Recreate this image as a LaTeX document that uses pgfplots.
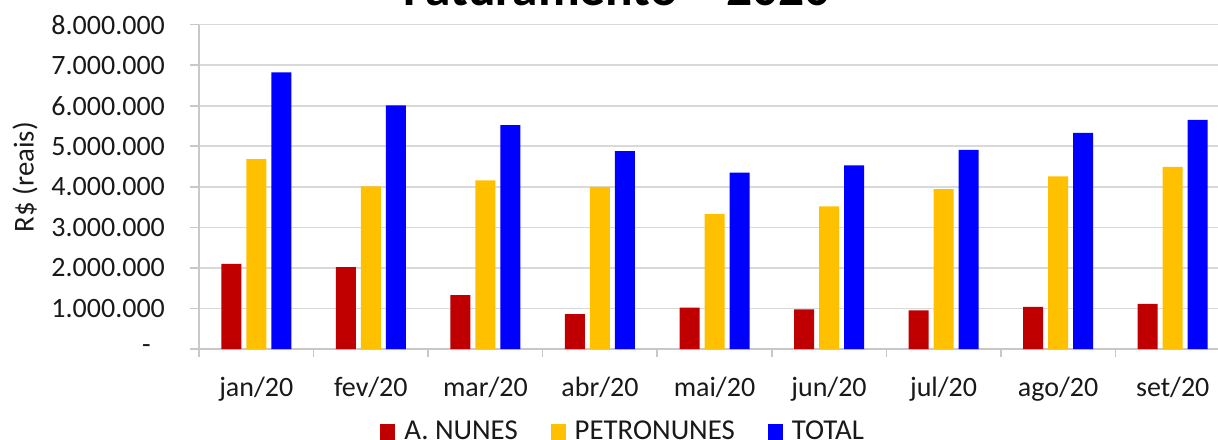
\documentclass[border=0pt]{standalone}
\usepackage{fontspec}
\setmainfont{Carlito}
\usepackage{pgfplots}
\pgfplotsset{compat=1.18}
\usetikzlibrary{calc}
\definecolor{cRed}{HTML}{C00000}
\definecolor{cGold}{HTML}{FFC000}
\definecolor{cBlue}{HTML}{0000FF}
\definecolor{cGrid}{HTML}{D9D9D9}
\definecolor{cAxis}{HTML}{C8C8C8}

\pgfplotstableread{
x anunes petro total
0 2100000 4680000 6820000
1 2020000 4010000 6010000
2 1330000 4160000 5520000
3 860000 4000000 4880000
4 1020000 3330000 4350000
5 980000 3520000 4530000
6 950000 3940000 4910000
7 1040000 4260000 5330000
8 1110000 4490000 5650000
}\datatable

\begin{document}
\begin{tikzpicture}
\begin{axis}[name=ax, at={(0,0)}, anchor=south west,
  scale only axis, width=515.5pt, height=162.2pt,
  xmin=-0.5, xmax=8.5, ymin=0, ymax=8000000,
  ybar=2.5pt, bar width=10pt,
  axis x line*=bottom, axis y line*=left,
  axis line style={draw=cAxis, line width=0.8pt, -},
  tick align=outside,
  xtick={0,...,8},
  xticklabels={jan/20,fev/20,mar/20,abr/20,mai/20,jun/20,jul/20,ago/20,set/20},
  major x tick style={draw=none},
  minor xtick={-0.5,0.5,1.5,2.5,3.5,4.5,5.5,6.5,7.5,8.5},
  minor x tick style={draw=cAxis, line width=0.8pt},
  minor tick length=4pt,
  ytick={0,1000000,2000000,3000000,4000000,5000000,6000000,7000000,8000000},
  yticklabels={-\hphantom{0},1.000.000,2.000.000,3.000.000,4.000.000,5.000.000,6.000.000,7.000.000,8.000.000},
  scaled y ticks=false,
  major y tick style={draw=cAxis, line width=0.8pt},
  major tick length=4.5pt,
  ymajorgrids, grid style={draw=cGrid, line width=0.8pt},
  tick label style={font=\fontsize{14}{17}\selectfont, text=black!90},
  yticklabel style={xshift=-9pt},
  xticklabel style={yshift=-6pt},
  ylabel={R\$ (reais)},
  ylabel style={at={(axis description cs:-0.1688,0.53)}, anchor=center, font=\fontsize{14.4}{17}\selectfont, text=black!90},
  title={Faturamento – 2020},
  title style={at={(axis description cs:0.4054,1)}, anchor=base, yshift=3.35pt, font=\bfseries\fontsize{25.7}{30}\selectfont},
  legend columns=3,
  legend style={at={(axis description cs:0.1756,-0.256)}, anchor=west, draw=none, inner sep=0pt,
    font=\fontsize{14.4}{17}\selectfont, text=black!90,
    /tikz/every odd column/.append style={column sep=2.5pt},
    /tikz/every even column/.append style={column sep=14.5pt}},
  legend image code/.code={\fill[#1] (0pt,-4.25pt) rectangle (7.5pt,4.25pt);},
]
\addplot[fill=cRed, draw=none] table[x=x, y=anunes] {\datatable};
\addplot[fill=cGold, draw=none] table[x=x, y=petro] {\datatable};
\addplot[fill=cBlue, draw=none] table[x=x, y=total] {\datatable};
\legend{A. NUNES, PETRONUNES, TOTAL}
\end{axis}
\pgfresetboundingbox
\path[use as bounding box] ($(ax.south west)+(-99.5pt,-45pt)$) rectangle ($(ax.south west)+(509.5pt,174.5pt)$);
\end{tikzpicture}
\end{document}
